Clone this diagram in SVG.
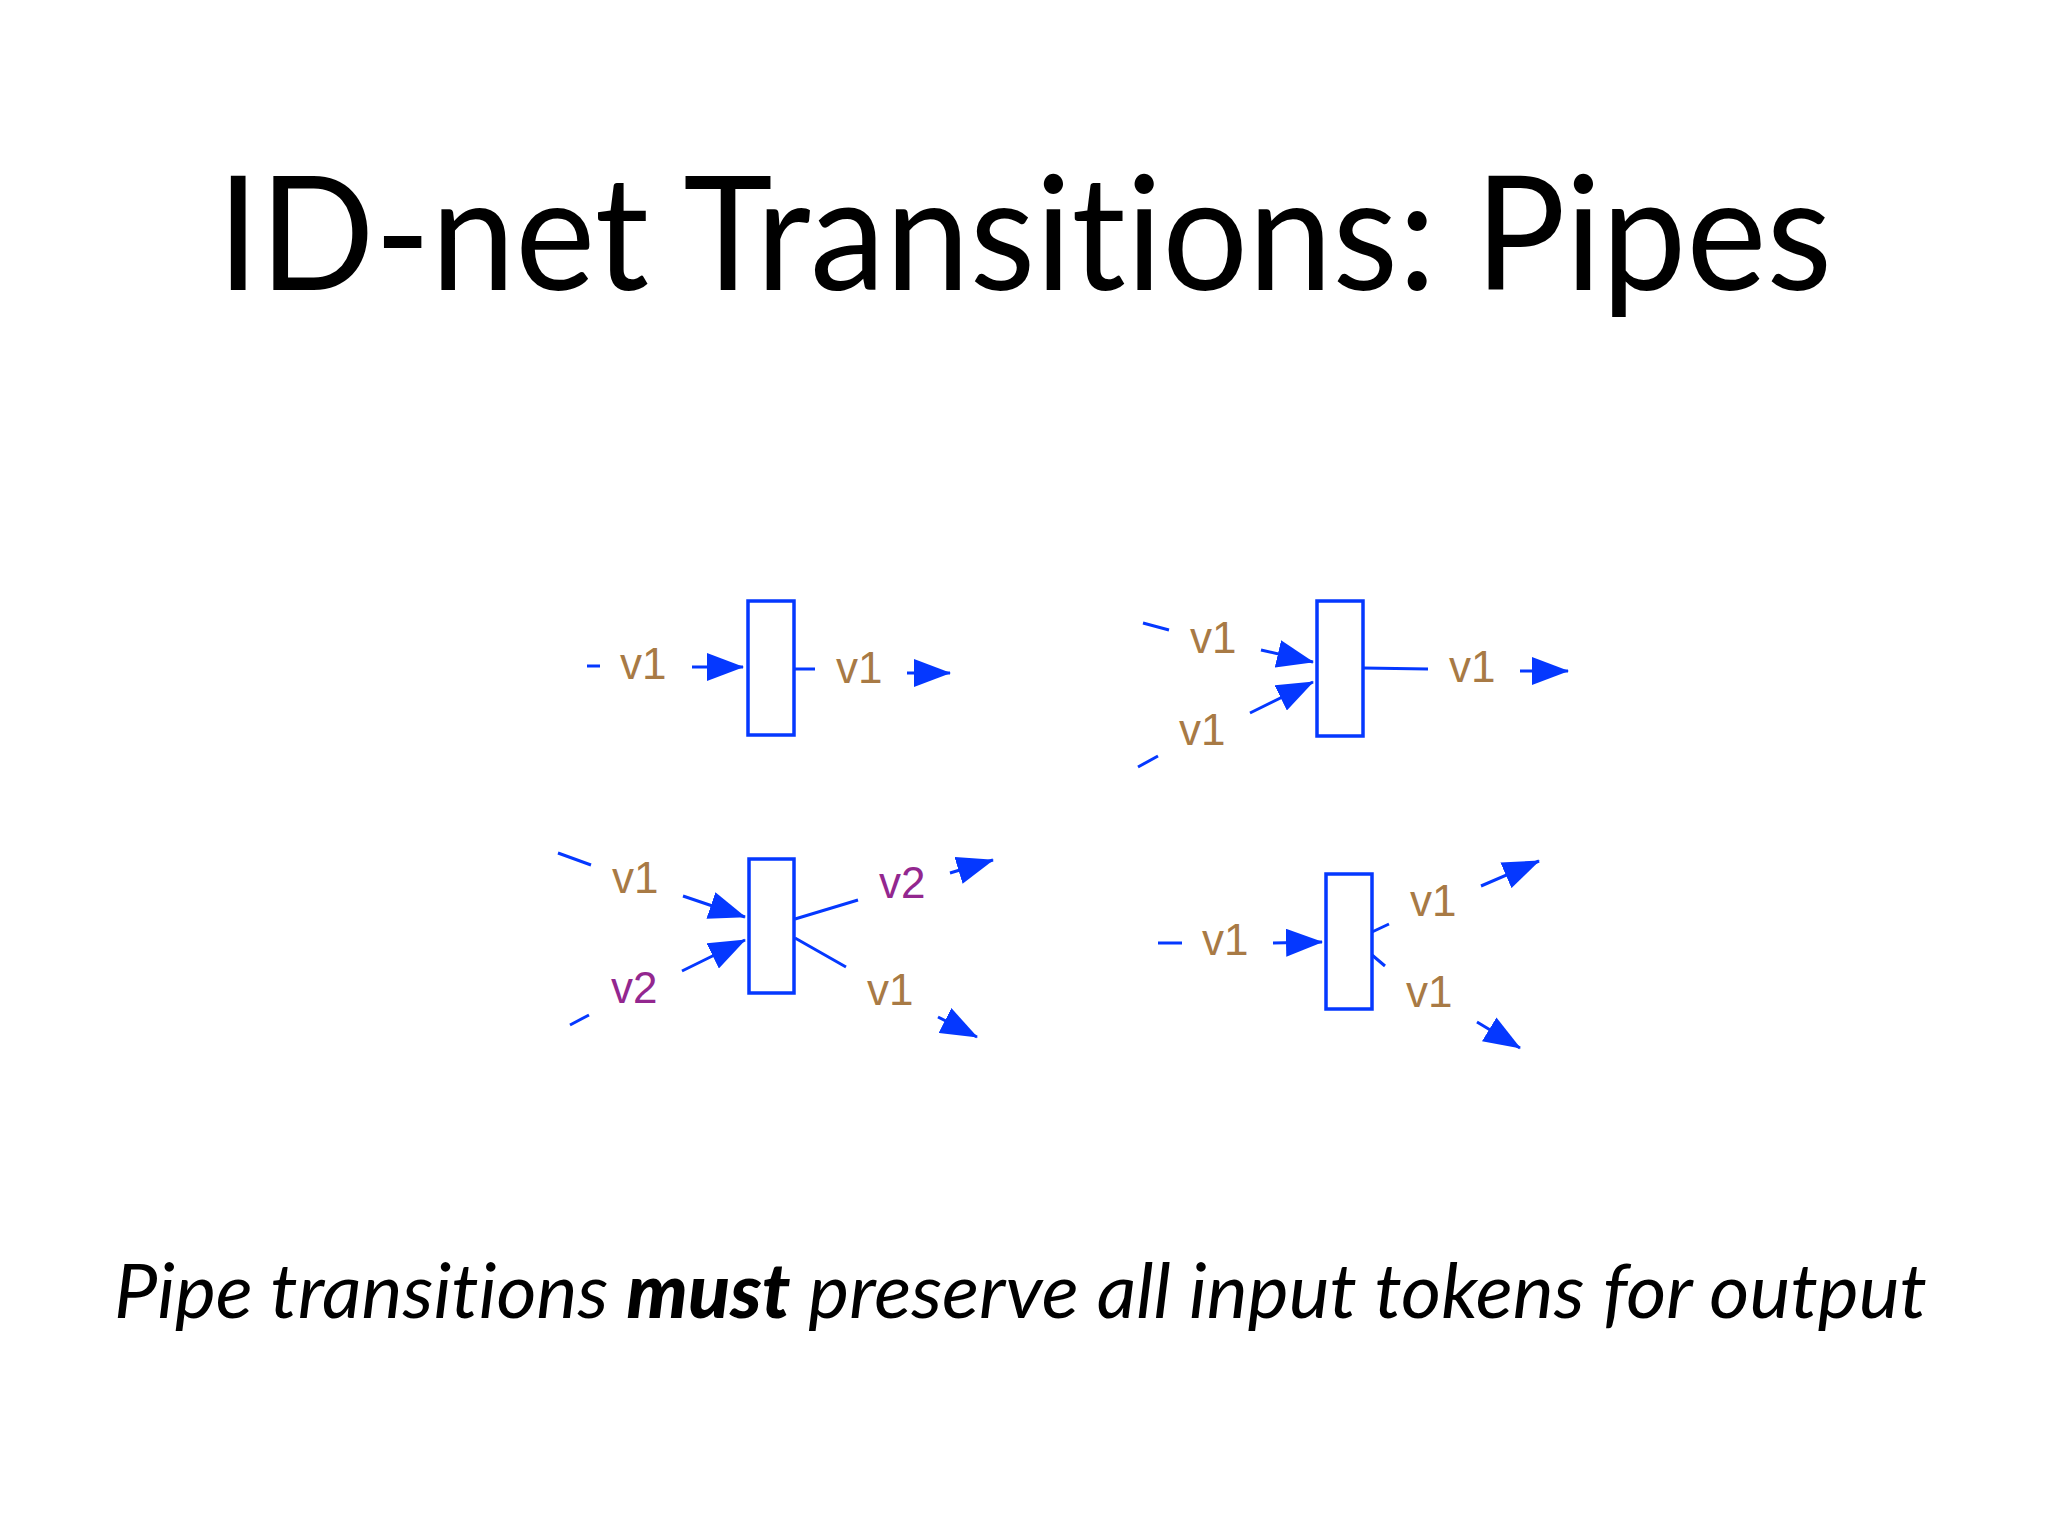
<svg xmlns="http://www.w3.org/2000/svg" width="2048" height="1536" viewBox="0 0 2048 1536">
<defs>
<style>
.title{font-family:Lato,"Open Sans","Liberation Sans",sans-serif;font-size:160px;fill:#000;font-variant-ligatures:none;font-feature-settings:"liga" 0,"clig" 0}
.sub{font-family:Lato,"Open Sans","Liberation Sans",sans-serif;font-size:76px;font-style:italic;fill:#000;font-variant-ligatures:none;font-feature-settings:"liga" 0,"clig" 0}
.sub .b{font-weight:900}
.t{fill:#fff;stroke:#0538FF;stroke-width:3.5}
.c{fill:none;stroke:#0538FF;stroke-width:3}
.lb{font-family:"Liberation Sans",Arial,sans-serif;font-size:44px;fill:#A87A45}
.lp{font-family:"Liberation Sans",Arial,sans-serif;font-size:44px;fill:#93278F}
</style>
<marker id="ah" viewBox="0 0 37 28" refX="36" refY="14" markerWidth="37" markerHeight="28" markerUnits="userSpaceOnUse" orient="auto">
<path d="M0,0 L37,14 L0,28 z" fill="#0538FF"/>
</marker>
</defs>
<rect width="2048" height="1536" fill="#fff"/>
<text class="title" x="217" y="290" textLength="1615" lengthAdjust="spacingAndGlyphs">ID-net Transitions: Pipes</text>
<text class="sub" x="114" y="1318" textLength="1813" lengthAdjust="spacingAndGlyphs">Pipe transitions <tspan class="b">must</tspan> preserve all input tokens for output</text>

<g id="connectors">
<path class="c" d="M587,666 L600,666 M692,667 L743,667" marker-end="url(#ah)"/>
<path class="c" d="M794,669 L815,669 M907,673 L950,673" marker-end="url(#ah)"/>
<path class="c" d="M1143,623 L1169,630 M1261,650 L1313,662" marker-end="url(#ah)"/>
<path class="c" d="M1138,767 L1158,756 M1250,713 L1313,682" marker-end="url(#ah)"/>
<path class="c" d="M1363,668 L1428,669 M1520,671 L1568,671" marker-end="url(#ah)"/>
<path class="c" d="M558,853 L591,865 M683,896 L745,917" marker-end="url(#ah)"/>
<path class="c" d="M570,1025 L589,1015 M682,971 L745,940" marker-end="url(#ah)"/>
<path class="c" d="M795,919 L858,900 M950,873 L993,860" marker-end="url(#ah)"/>
<path class="c" d="M795,938 L846,967 M938,1017 L977,1037" marker-end="url(#ah)"/>
<path class="c" d="M1158,943 L1182,943 M1273,943 L1322,942" marker-end="url(#ah)"/>
<path class="c" d="M1372,932 L1389,924 M1481,886 L1539,861" marker-end="url(#ah)"/>
<path class="c" d="M1372,955 L1385,966 M1477,1022 L1520,1048" marker-end="url(#ah)"/>
</g>

<g id="t1"><rect class="t" x="748" y="601" width="46" height="134"/></g>
<g id="t2"><rect class="t" x="1317" y="601" width="46" height="135"/></g>
<g id="t3"><rect class="t" x="749" y="859" width="45" height="134"/></g>
<g id="t4"><rect class="t" x="1326" y="874" width="46" height="135"/></g>

<g id="labels">
<text class="lb" x="620" y="679">v1</text>
<text class="lb" x="836" y="683">v1</text>
<text class="lb" x="1190" y="653">v1</text>
<text class="lb" x="1179" y="745">v1</text>
<text class="lb" x="1449" y="682">v1</text>
<text class="lb" x="612" y="893">v1</text>
<text class="lp" x="611" y="1003">v2</text>
<text class="lp" x="879" y="898">v2</text>
<text class="lb" x="867" y="1005">v1</text>
<text class="lb" x="1202" y="955">v1</text>
<text class="lb" x="1410" y="916">v1</text>
<text class="lb" x="1406" y="1007">v1</text>
</g>
</svg>
